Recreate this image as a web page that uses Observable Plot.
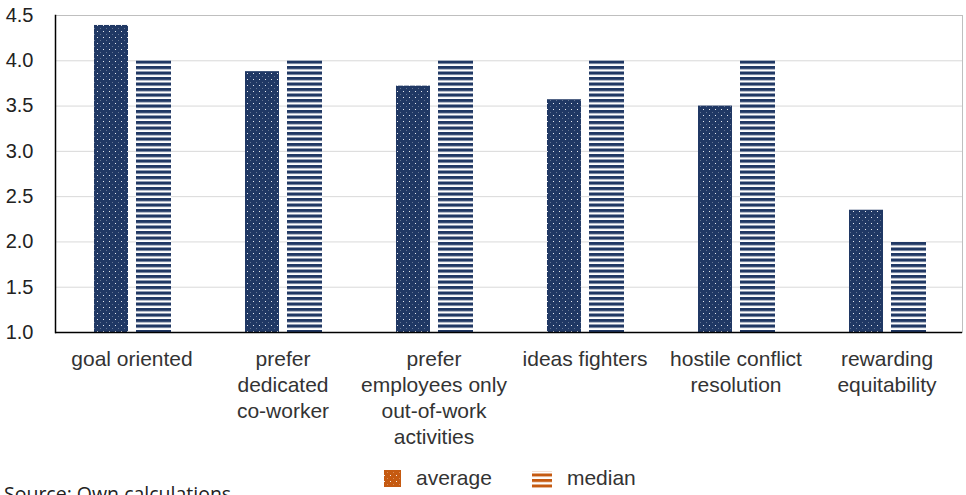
<!DOCTYPE html>
<html>
<head>
<meta charset="utf-8">
<script src="https://cdn.jsdelivr.net/npm/d3@7"></script>
<script src="https://cdn.jsdelivr.net/npm/@observablehq/plot@0.6"></script>
<style>
  html, body { margin: 0; padding: 0; background: #fff; }
  #wrap { position: relative; width: 966px; height: 495px; overflow: hidden; font-family: "Liberation Sans", Arial, sans-serif; }
  #legend { position: absolute; left: 383px; top: 466px; display: flex; align-items: center; font-size: 21px; color: #333; }
  #legend .item { display: flex; align-items: center; }
  #legend svg { display: block; }
  #source { position: absolute; left: 4px; top: 480px; font-family: "Open Sans", sans-serif; font-size: 19.5px; color: #222; white-space: nowrap; }
</style>
</head>
<body>
<div id="wrap">
  <div id="chart"></div>
  <div id="legend"></div>
  <div id="source">Source: Own calculations</div>
</div>
<script>
const categories = [
  "goal oriented",
  "prefer\ndedicated\nco-worker",
  "prefer\nemployees only\nout-of-work\nactivities",
  "ideas fighters",
  "hostile conflict\nresolution",
  "rewarding\nequitability"
];
const averages = [4.39, 3.88, 3.72, 3.57, 3.50, 2.35];
const medians = [4.0, 4.0, 4.0, 4.0, 4.0, 2.0];
const yTicks = [1.0, 1.5, 2.0, 2.5, 3.0, 3.5, 4.0, 4.5];
const seriesNames = ["average", "median"];

const rows = categories.map((c, i) => ({category: c, average: averages[i], median: medians[i]}));

const navy = "#203864";
const orange = "#c55a11";

const plot = Plot.plot({
  width: 966,
  height: 450,
  marginLeft: 55,
  marginRight: 4,
  marginTop: 15,
  marginBottom: 118,
  style: {fontFamily: "'Liberation Sans', Arial, sans-serif", color: "#333", background: "#fff"},
  x: {domain: categories, padding: 0, label: null},
  y: {domain: [1, 4.5], label: null},
  marks: [
    Plot.gridY(yTicks, {stroke: "#d9d9d9", strokeOpacity: 1}),
    Plot.frame({stroke: "#bfbfbf", strokeWidth: 1}),
    Plot.barY(rows, {x: "category", y1: 1, y2: "average", fill: "url(#dotsNavy)", insetLeft: 38, insetRight: 79}),
    Plot.barY(rows, {x: "category", y1: 1, y2: "median", fill: "url(#stripesNavy)", insetLeft: 80, insetRight: 36}),
    Plot.ruleY([1], {stroke: "#000", strokeWidth: 1.5}),
    Plot.frame({anchor: "left", stroke: "#000", strokeWidth: 1.5}),
    Plot.axisY(yTicks, {tickSize: 0, tickPadding: 22, tickFormat: d3.format(".1f"), fontSize: 20, fill: "#222", label: null}),
    Plot.axisX({tickSize: 0, tickPadding: 15, fontSize: 21, lineHeight: 1.24, fill: "#333", label: null})
  ]
});

const svg = d3.select(plot);
const defs = svg.insert("defs", ":first-child");
function dotPattern(sel, id, color) {
  const p = sel.append("pattern").attr("id", id).attr("patternUnits", "userSpaceOnUse")
    .attr("width", 6).attr("height", 6);
  p.append("rect").attr("width", 6).attr("height", 6).attr("fill", color);
  p.append("rect").attr("x", 1).attr("y", 1).attr("width", 1).attr("height", 1).attr("fill", "#fff").attr("opacity", 0.9);
  p.append("rect").attr("x", 4).attr("y", 4).attr("width", 0.6).attr("height", 1).attr("fill", "#fff").attr("opacity", 0.5);
}
function stripePattern(sel, id, color) {
  const p = sel.append("pattern").attr("id", id).attr("patternUnits", "userSpaceOnUse")
    .attr("width", 8).attr("height", 5.5);
  p.append("rect").attr("width", 8).attr("height", 5.5).attr("fill", "#fff");
  p.append("rect").attr("y", 0).attr("width", 8).attr("height", 3.2).attr("fill", color);
}
dotPattern(defs, "dotsNavy", navy);
stripePattern(defs, "stripesNavy", navy);

document.getElementById("chart").appendChild(plot);

// Legend
const legend = d3.select("#legend");
seriesNames.forEach((name, i) => {
  const item = legend.append("div").attr("class", "item");
  const s = item.append("svg").attr("width", 20).attr("height", 20).style("margin-right", i === 0 ? "13px" : "15px");
  const d = s.append("defs");
  if (name === "average") {
    dotPattern(d, "dotsOrange", orange);
    s.append("rect").attr("x", 1).attr("y", 2).attr("width", 17).attr("height", 17).attr("fill", "url(#dotsOrange)");
  } else {
    const sp = d.append("pattern").attr("id", "stripesOrange").attr("patternUnits", "userSpaceOnUse").attr("width", 20).attr("height", 5.5);
    sp.append("rect").attr("width", 20).attr("height", 5.5).attr("fill", "#fff");
    sp.append("rect").attr("width", 20).attr("height", 3).attr("fill", orange);
    s.append("rect").attr("x", 0).attr("y", 3).attr("width", 20).attr("height", 17).attr("fill", "url(#stripesOrange)");
  }
  item.append("span").text(name).style("margin-right", i === 0 ? "40px" : "0");
});
</script>
</body>
</html>
